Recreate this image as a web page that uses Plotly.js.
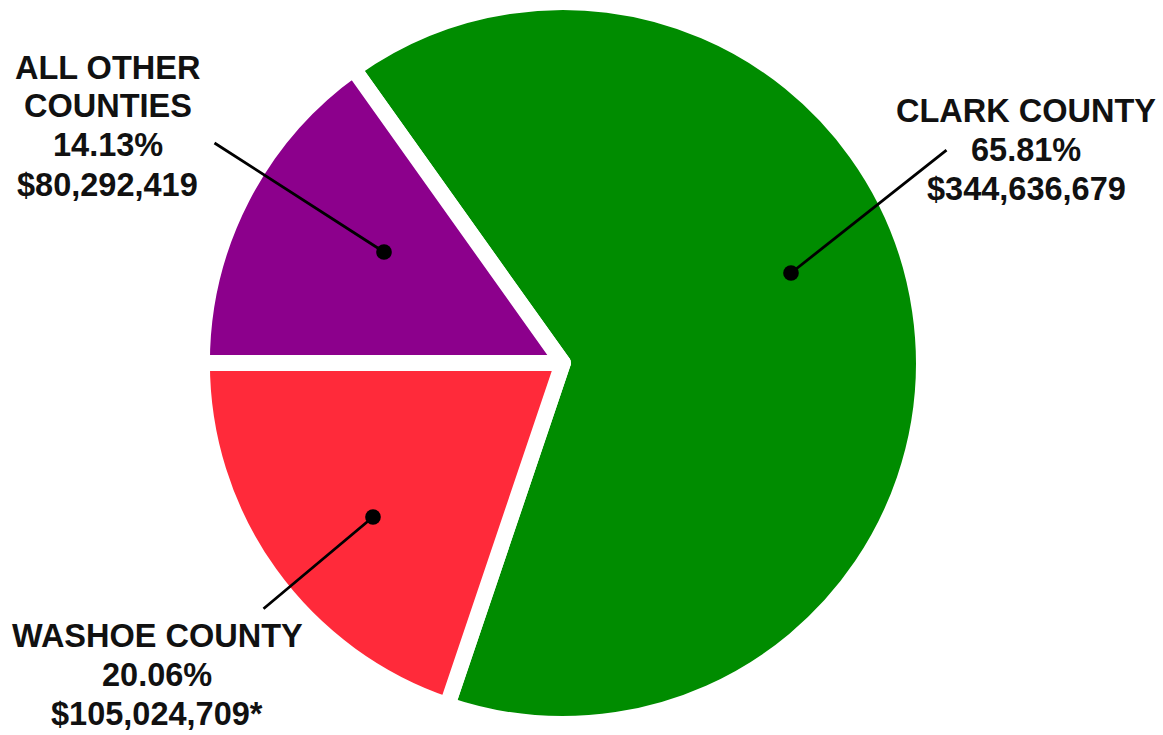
<!DOCTYPE html>
<html>
<head>
<meta charset="utf-8">
<script src="https://cdn.plot.ly/plotly-3.0.1.min.js"></script>
<style>html,body{margin:0;padding:0;background:#fff;}#chart{width:1163px;height:735px;}</style>
</head>
<body>
<div id="chart"></div>
<script>
// ---- data ----
var counties = ['CLARK COUNTY', 'WASHOE COUNTY', 'ALL OTHER<br>COUNTIES'];
var amounts = [344636679, 105024709, 80292419];
var percentLabels = ['65.81%', '20.06%', '14.13%'];
var amountNotes = ['', '*', ''];
var sliceColors = ['#008c00', '#ff2a3a', '#8c008c'];

// ---- build ----
var total = amounts.reduce(function (a, b) { return a + b; }, 0);
// last slice ends exactly at 9 o'clock (270 deg, clockwise from 12)
var rotation = 270 + amounts[2] / total * 360 - 360;

function money(v) { return '$' + v.toLocaleString('en-US'); }

var labelLines = counties.map(function (c, i) {
  return c.split('<br>').concat([percentLabels[i], money(amounts[i]) + amountNotes[i]]);
});

var W = 1163, H = 735;
function px(x) { return x / W; }
function py(y) { return 1 - y / H; }

var trace = {
  type: 'pie',
  labels: counties,
  values: amounts,
  sort: false,
  direction: 'clockwise',
  rotation: rotation,
  textinfo: 'none',
  textposition: 'none',
  hoverinfo: 'label+value+percent',
  marker: { colors: sliceColors, line: { color: '#ffffff', width: 16 } },
  domain: { x: [0, 0.968], y: [py(363) - 361 / H, py(363) + 361 / H] },
  showlegend: false
};

var font = { family: 'Liberation Sans, Arial, sans-serif', size: 32.5, color: '#111111' };
var lineGap = 39;

var textPos = [[1026, 150], [157, 675], [107.5, 126]];
var dotPos = [[791, 273], [373, 517], [384, 252]];
var tailOff = [[157, -124], [-111, 93], [-171, -110]];

var annotations = [];
labelLines.forEach(function (lines, i) {
  var n = lines.length;
  lines.forEach(function (ln, k) {
    annotations.push({
      xref: 'paper', yref: 'paper',
      x: px(textPos[i][0]), y: py(textPos[i][1] + (k - (n - 1) / 2) * lineGap),
      xanchor: 'center', yanchor: 'middle', text: '<b>' + ln + '</b>',
      showarrow: false, font: font, align: 'center'
    });
  });
  annotations.push({
    xref: 'paper', yref: 'paper', x: px(dotPos[i][0]), y: py(dotPos[i][1]),
    text: '', showarrow: true, arrowhead: 6, arrowsize: 1.4, arrowwidth: 2.8,
    arrowcolor: '#000000', ax: tailOff[i][0], ay: tailOff[i][1], standoff: 0, startstandoff: 0
  });
});

var layout = {
  width: W, height: H,
  margin: { l: 0, r: 0, t: 0, b: 0, pad: 0 },
  paper_bgcolor: '#ffffff', plot_bgcolor: '#ffffff',
  showlegend: false,
  annotations: annotations
};

Plotly.newPlot('chart', [trace], layout, { displayModeBar: false, staticPlot: true });
</script>
</body>
</html>
